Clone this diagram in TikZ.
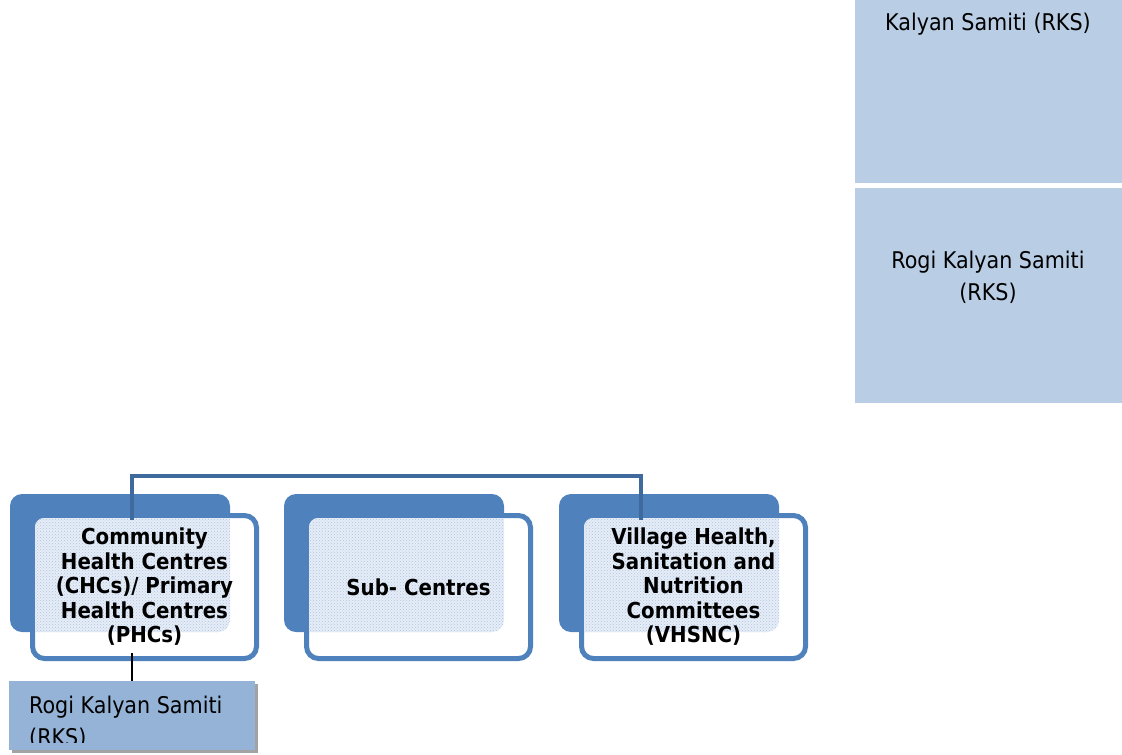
\documentclass[tikz,border=0pt]{standalone}
\usepackage{fontspec}
\setmainfont{DejaVu Sans Condensed}
\usetikzlibrary{patterns,calc,shadows}

\definecolor{cardblue}{HTML}{4F81BD}
\definecolor{busblue}{HTML}{3F6A9E}
\definecolor{panelblue}{HTML}{B9CDE5}
\definecolor{rksblue}{HTML}{95B3D7}
\definecolor{dotblue}{HTML}{AEC4E2}
\definecolor{tintblue}{HTML}{E6EDF7}

\begin{document}
\begin{tikzpicture}[x=1pt,y=-1pt,
  panel/.style={fill=panelblue, inner sep=0pt, outer sep=0pt},
  plain/.style={inner sep=0pt, font=\fontsize{23}{32}\selectfont, text=black},
  backcard/.style={fill=cardblue, rounded corners=12pt, minimum width=220pt,
    minimum height=138pt, inner sep=0pt, outer sep=0pt},
  frontcard/.style={draw=cardblue, line width=5pt, fill=white, rounded corners=12pt,
    minimum width=224pt, minimum height=143pt, inner sep=0pt},
  cardtext/.style={align=center, inner sep=0pt,
    font=\bfseries\fontsize{22}{24.5}\selectfont, text=black},
  bus/.style={draw=busblue, line width=3.5pt},
  link/.style={draw=black, line width=2pt},
  rksbox/.style={fill=rksblue, minimum width=246pt, minimum height=69pt,
    inner sep=0pt, drop shadow={shadow xshift=3pt, shadow yshift=-3pt,
    fill=black!45, opacity=0.8}}]
\useasboundingbox (0,0) rectangle (1122,755);

% right-hand panels
\node[panel, minimum width=267pt, minimum height=183pt] (k1) at (988.5,91.5) {};
\node[panel, minimum width=267pt, minimum height=215pt] (k2) at (988.5,295.5) {};
\node[plain, anchor=base] (k1t) at (988,30) {Kalyan Samiti (RKS)};
\node[plain, anchor=base] (k2a) at (988,268) {Rogi Kalyan Samiti};
\node[plain, anchor=base] (k2b) at (988,300) {(RKS)};

% the three cards: back tab, white front, dotted overlap
\foreach \i/\dx in {1/0,2/274,3/549}{
  \node[backcard] (b\i) at (120+\dx,563) {};
  \node[frontcard] (f\i) at (144.5+\dx,587) {};
  \begin{scope}
    \clip[rounded corners=9pt] (35+\dx,518) rectangle (254+\dx,656);
    \fill[tintblue, rounded corners=12pt] (10+\dx,494) rectangle (230+\dx,632);
    \fill[pattern=crosshatch dots, pattern color=dotblue, rounded corners=12pt]
      (10+\dx,494) rectangle (230+\dx,632);
  \end{scope}
}
\node[cardtext] (t1) at (f1.center) {Community\\Health Centres\\(CHCs)/ Primary\\Health Centres\\(PHCs)};
\node[cardtext] (t2) at (f2.center) {Sub- Centres};
\node[cardtext] (t3) at (f3.center) {Village Health,\\Sanitation and\\Nutrition\\Committees\\(VHSNC)};

% bus joining the outer cards
\coordinate (j1) at (132,476);
\coordinate (j3) at (641,476);
\draw[bus] ($(f1.north -| j1)+(0,7)$) -- (j1) -- (j3) -- ($(f3.north -| j3)+(0,7)$);

% RKS box under the first card
\node[rksbox] (r1) at (132,715.5) {};
\draw[link] ($(f1.south -| r1.north)+(0,-8)$) -- (r1.north);
\begin{scope}
  \clip (9,681) rectangle (255,742);
  \node[plain, anchor=base west] (r1a) at (29,713) {Rogi Kalyan Samiti};
  \node[plain, anchor=base west] (r1b) at (29,745) {(RKS)};
\end{scope}
\end{tikzpicture}
\end{document}
